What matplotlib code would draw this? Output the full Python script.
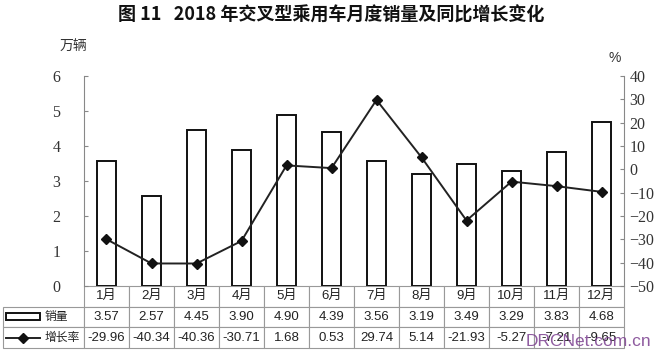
import matplotlib
matplotlib.use("Agg")
import matplotlib.pyplot as plt
from matplotlib.patches import Rectangle
from matplotlib.lines import Line2D

plt.rcParams['font.family'] = ['Liberation Sans', 'Noto Sans CJK SC', 'DejaVu Sans']

# data
months = ['1月', '2月', '3月', '4月', '5月', '6月', '7月', '8月', '9月', '10月', '11月', '12月']
sales = [3.57, 2.57, 4.45, 3.90, 4.90, 4.39, 3.56, 3.19, 3.49, 3.29, 3.83, 4.68]
growth = [-29.96, -40.34, -40.36, -30.71, 1.68, 0.53, 29.74, 5.14, -21.93, -5.27, -7.21, -9.65]
left_ticks = [0, 1, 2, 3, 4, 5, 6]
right_ticks = [-50, -40, -30, -20, -10, 0, 10, 20, 30, 40]

W, H = 660, 352
fig = plt.figure(figsize=(W / 100, H / 100), dpi=100)

# plot area in pixels
x0, x1, ytop, ybot = 84, 624, 76, 286
ax = fig.add_axes([x0 / W, 1 - ybot / H, (x1 - x0) / W, (ybot - ytop) / H])
x = list(range(len(months)))
ax.bar(x, sales, width=0.42, color='white', edgecolor='#111111', linewidth=1.4, zorder=2)
ax.set_xlim(-0.5, len(months) - 0.5)
ax.set_ylim(0, 6)
ax.set_yticks(left_ticks)
ax.set_xticks([])
for s in ['top', 'bottom', 'right']:
    ax.spines[s].set_visible(False)
ax.spines['left'].set_color('#888888')
ax.tick_params(axis='y', direction='in', length=3, color='#888888', pad=17,
               labelsize=11.5, labelcolor='#333333')
for lab in ax.get_yticklabels():
    lab.set_family('Liberation Serif')

ax2 = ax.twinx()
ax2.plot(x, growth, color='#222222', linewidth=1.4, marker='D', markersize=5.5,
         markerfacecolor='#111111', markeredgecolor='#111111', zorder=3)
ax2.set_ylim(-50, 40)
ax2.set_yticks(right_ticks)
for s in ['top', 'bottom', 'left']:
    ax2.spines[s].set_visible(False)
ax2.spines['right'].set_color('#888888')
ax2.tick_params(axis='y', direction='in', length=3, color='#888888', pad=4,
                labelsize=11.5, labelcolor='#333333')
for lab in ax2.get_yticklabels():
    lab.set_family('Liberation Serif')

# data table under the plot
label_w = 81
col_w = (x1 - x0) / len(months)
cell_text = [[''] + months,
             [''] + [f'{v:.2f}' for v in sales],
             [''] + [f'{v:.2f}' for v in growth]]
tb_top, tb_bot = 286, 348
tbl = ax.table(cellText=cell_text, colWidths=[label_w] + [col_w] * len(months),
               cellLoc='center',
               bbox=[-label_w / (x1 - x0), -(tb_bot - tb_top) / (ybot - ytop),
                     (x1 - x0 + label_w) / (x1 - x0), (tb_bot - tb_top) / (ybot - ytop)])
tbl.auto_set_font_size(False)
for (r, c), cell in tbl.get_celld().items():
    cell.set_edgecolor('#999999')
    cell.set_linewidth(0.8)
    cell.get_text().set_fontsize(9.5)
    cell.get_text().set_color('#222222')
tbl[0, 0].visible_edges = ''

# row labels with legend symbols
fig.text(45 / W, 1 - 317 / H, '销量', fontsize=8.5, color='#222222', va='center', ha='left')
fig.text(45 / W, 1 - 338 / H, '增长率', fontsize=8.5, color='#222222', va='center', ha='left')
fig.add_artist(Rectangle((6 / W, 1 - 320 / H), 34 / W, 7 / H, transform=fig.transFigure,
                         facecolor='white', edgecolor='#111111', linewidth=1.4))
fig.add_artist(Line2D([6 / W, 40 / W], [1 - 338 / H, 1 - 338 / H], transform=fig.transFigure,
                      color='#222222', linewidth=1.4))
fig.add_artist(Line2D([23 / W], [1 - 338 / H], transform=fig.transFigure, marker='D',
                      markersize=5, color='#111111', linestyle='none'))

# titles and units
fig.text(331 / W, 1 - 15 / H, '图 11   2018 年交叉型乘用车月度销量及同比增长变化',
         fontsize=13, fontweight='bold', ha='center', va='center',
         family=['Noto Sans CJK SC', 'DejaVu Sans'], color='#111111')
fig.text(60 / W, 1 - 47 / H, '万辆', fontsize=10, ha='left', va='center', color='#333333')
fig.text(615 / W, 1 - 58 / H, '%', fontsize=10, ha='center', va='center', color='#333333')

# watermark
fig.text(588 / W, 1 - 341 / H, 'DRCNet.com.cn', fontsize=12.5, ha='center', va='center',
         color='#7b3f8f', alpha=0.85)

fig.savefig('out.png', dpi=100)
